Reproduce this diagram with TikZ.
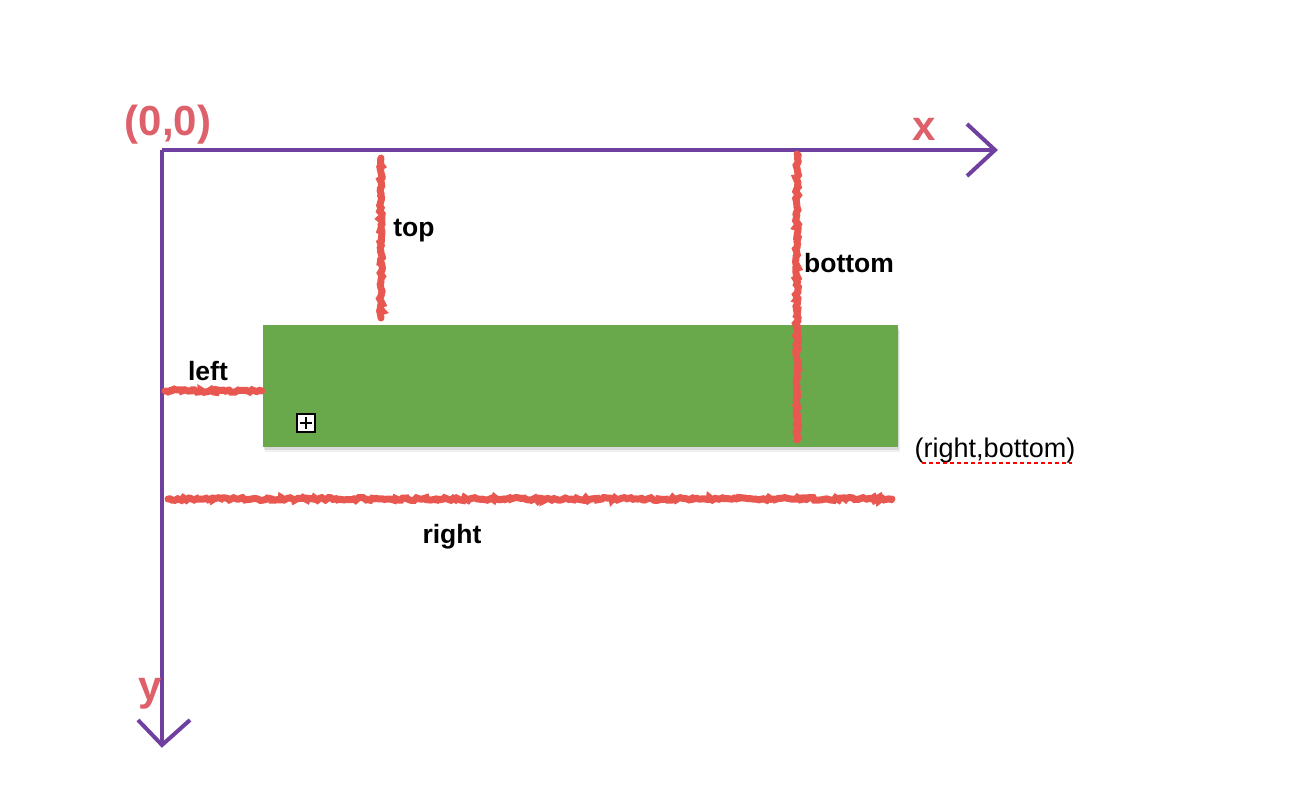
\documentclass[tikz,border=0pt]{standalone}
\usepackage{fontspec}
\setmainfont{Liberation Sans}
\usetikzlibrary{decorations.pathmorphing,shadows}
\definecolor{axispurple}{RGB}{112,64,160}
\definecolor{labelred}{RGB}{222,96,106}
\definecolor{roughred}{RGB}{232,88,80}
\definecolor{grass}{RGB}{106,168,76}
\tikzset{
  axis/.style={line width=4pt, color=axispurple},
  axishead/.style={line width=4pt, color=axispurple, line join=miter},
  rough/.style={line width=7pt, color=roughred, line cap=round,
    decorate, decoration={random steps, segment length=2.5pt, amplitude=1.5pt}},
  axislabel/.style={text=labelred, font=\bfseries\fontsize{42}{42}\selectfont, inner sep=0pt},
  dimlabel/.style={font=\bfseries\fontsize{26.5}{26.5}\selectfont, inner sep=0pt},
  box/.style={fill=grass, draw=none,
    drop shadow={opacity=0.12, shadow xshift=2pt, shadow yshift=-5pt},
    drop shadow={opacity=0.2, shadow xshift=1pt, shadow yshift=-2.5pt}},
}
\begin{document}
\begin{tikzpicture}[x=1pt, y=-1pt]
  \useasboundingbox (0,0) rectangle (1310,792);
  % axes
  \coordinate (O) at (162,150);
  \coordinate (X) at (995,150);
  \coordinate (Y) at (162,745);
  \coordinate (xa) at (967,124);
  \coordinate (xb) at (967,176);
  \coordinate (ya) at (138,720);
  \coordinate (yb) at (190,720);
  \draw[axis] (O) -- (X);
  \draw[axis] (O) -- (Y);
  \draw[axishead] (xa) -- (X) -- (xb);
  \draw[axishead] (ya) -- (Y) -- (yb);
  \node[axislabel] (origin) at (168,125) {(0,0)};
  \node[axislabel] (xlab) at (924,129) {x};
  \node[axislabel] (ylab) at (150,694) {y};
  % rectangle
  \node[box, minimum width=635pt, minimum height=122pt, inner sep=0pt] (rect) at (580.5,386) {};
  \node[draw=black, fill=white, line width=1.6pt, minimum size=18pt, inner sep=0pt] (icon) at (306,423) {};
  \draw[line width=1.6pt] ([xshift=-6pt]icon.center) -- ([xshift=6pt]icon.center);
  \draw[line width=1.6pt] ([yshift=-6pt]icon.center) -- ([yshift=6pt]icon.center);
  % dimension lines
  \coordinate (t1) at (381,158);
  \coordinate (t2) at (381,318);
  \coordinate (b1) at (797,154);
  \coordinate (b2) at (797,440);
  \coordinate (l1) at (165,391);
  \coordinate (l2) at (262,391);
  \coordinate (r1) at (168,499);
  \coordinate (r2) at (892,499);
  \draw[rough] (t1) -- (t2);
  \draw[rough] (b1) -- (b2);
  \draw[rough] (l1) -- (l2);
  \draw[rough] (r1) -- (r2);
  \node[dimlabel] (toplab) at (414,231) {top};
  \node[dimlabel] (botlab) at (849,263) {bottom};
  \node[dimlabel] (leftlab) at (208,371) {left};
  \node[dimlabel] (rightlab) at (452,537) {right};
  % corner label
  \node[font=\fontsize{27}{27}\selectfont, inner sep=0pt] (rb) at (995,451) {(right,bottom)};
  \coordinate (u1) at (922,463);
  \coordinate (u2) at (1072,463);
  \draw[red, line width=2.5pt, dash pattern=on 4pt off 3pt] (u1) -- (u2);
\end{tikzpicture}
\end{document}
